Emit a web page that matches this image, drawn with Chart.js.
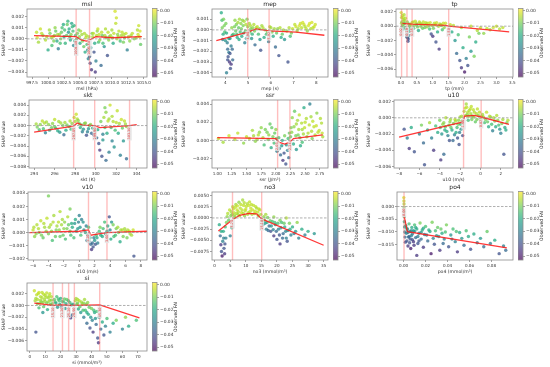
<!DOCTYPE html>
<html>
<head>
<meta charset="utf-8">
<script src="https://cdn.jsdelivr.net/npm/chart.js@4.4.1/dist/chart.umd.min.js"></script>
<style>
html, body { margin: 0; padding: 0; background: #fff; }
#fig { position: relative; width: 550px; height: 367px; overflow: hidden; background: #fff; }
canvas { position: absolute; }
</style>
</head>
<body>
<div id="fig"></div>
<script>
// ---- data: [x, SHAP value, observed FAI] ----
const mslPts = [[998.2,0.0006,-0.004],[998.3,0.0001,-0.002],[998.5,-0.0003,-0.006],[998.8,0.0009,-0.003],[999.0,0.0005,-0.004],[999.2,0.0003,-0.008],[999.6,-0.0001,-0.005],[999.8,0.0002,-0.006],
  [1000.0,-0.0010,-0.02],[1000.2,0.0008,-0.006],[1000.3,0.0005,-0.01],[1000.5,0.0001,-0.006],[1000.6,-0.0006,-0.015],[1000.8,0.0002,-0.004],[1000.9,-0.0002,-0.01],[1001.0,0.0003,-0.008],[1001.1,0.0010,-0.008],[1001.2,0.0007,-0.012],[1001.4,-0.0002,-0.02],[1001.5,0.0004,-0.006],[1001.6,-0.0009,-0.03],[1001.8,0.0004,-0.007],[1001.9,-0.0004,-0.015],
  [1002.0,0.0000,-0.01],[1002.1,0.0006,-0.012],[1002.2,0.0010,-0.015],[1002.4,0.0013,-0.02],[1002.5,0.0002,-0.022],[1002.6,0.0008,-0.015],[1002.7,-0.0004,-0.018],[1002.9,0.0003,-0.012],[1003.0,0.0013,-0.012],[1003.1,0.0016,-0.018],[1003.2,0.0006,-0.025],[1003.3,0.0009,-0.02],[1003.4,0.0002,-0.015],[1003.5,-0.0001,-0.02],[1003.6,0.0004,-0.009],[1003.7,0.0014,-0.022],[1003.8,0.0011,-0.018],[1003.9,0.0007,-0.015],[1004.0,-0.0006,-0.028],[1004.1,0.0012,-0.018],[1004.2,-0.0002,-0.02],[1004.3,0.0003,-0.015],
  [1004.5,0.0000,-0.012],[1004.6,0.0005,-0.01],[1004.8,0.0008,-0.01],[1004.9,0.0002,-0.008],[1005.0,-0.0004,-0.02],[1005.1,0.0007,-0.006],[1005.3,0.0004,-0.006],[1005.4,-0.0002,-0.01],[1005.6,-0.0007,-0.012],[1005.7,0.0005,-0.005],[1005.8,-0.0012,-0.02],[1005.9,0.0001,-0.004],[1006.0,0.0003,-0.005],[1006.1,-0.0005,-0.015],[1006.2,-0.0010,-0.025],[1006.3,-0.0018,-0.03],[1006.4,0.0002,-0.006],[1006.5,-0.0016,-0.035],[1006.6,-0.0022,-0.04],[1006.7,-0.0008,-0.025],[1006.8,-0.0028,-0.045],[1006.9,0.0005,-0.01],
  [1007.0,0.0002,-0.006],[1007.1,0.0005,-0.004],[1007.2,-0.0012,-0.04],[1007.3,-0.0004,-0.02],[1007.4,-0.0030,-0.045],[1007.5,-0.0020,-0.03],[1007.6,0.0003,-0.005],[1007.7,0.0007,-0.008],[1007.8,0.0009,-0.003],[1007.9,-0.0003,-0.015],[1008.0,0.0004,-0.004],[1008.1,-0.0001,-0.008],[1008.3,-0.0024,-0.035],[1008.4,0.0006,-0.004],[1008.5,0.0003,-0.012],[1008.6,-0.0004,-0.015],[1008.8,-0.0007,-0.025],[1008.9,0.0003,-0.006],[1009.0,0.0009,-0.005],[1009.1,0.0001,-0.01],[1009.3,-0.0015,-0.04],[1009.4,0.0006,-0.004],
  [1009.5,-0.0001,-0.008],[1009.6,0.0002,-0.01],[1009.8,0.0003,-0.005],[1010.0,0.0008,-0.006],[1010.1,0.0001,-0.008],[1010.2,-0.0004,-0.02],[1010.3,0.0005,-0.004],[1010.5,0.0025,-0.002],[1010.6,0.0014,-0.004],[1010.7,0.0019,-0.003],[1010.8,0.0000,-0.006],[1010.9,0.0004,-0.008],[1011.0,0.0002,-0.006],[1011.1,0.0007,-0.004],[1011.3,-0.0002,-0.015],[1011.5,0.0003,-0.006],[1011.6,0.0006,-0.004],[1011.8,-0.0003,-0.01],[1011.9,0.0004,-0.005],[1012.0,0.0001,-0.01],[1012.2,0.0005,-0.004],[1012.4,-0.0010,-0.03],
  [1012.6,0.0002,-0.006],[1012.8,-0.0002,-0.008],[1013.0,0.0003,-0.006],[1013.2,0.0005,-0.004],[1013.5,0.0000,-0.01],[1013.8,0.0001,-0.006],[1014.0,0.0008,-0.005],[1014.1,0.0004,-0.003],[1014.2,0.0012,-0.003],[1014.3,0.0002,-0.003],[1014.4,0.0007,-0.002],[1014.5,-0.0005,-0.012]];
const mslFit = [[997.8,0.0003],[1004.4,0.0002],[1005.2,-0.0001],[1006.0,-0.0002],[1006.5,-0.0001],[1007.5,0.0002],[1010.0,0.0001],[1014.7,0.0002]];
const mslBreaks = [1004.4, 1006.5];
const mslXTicks = [997.5, 1000, 1002.5, 1005, 1007.5, 1010, 1012.5, 1015];
const mslYTicks = [-0.003, -0.002, -0.001, 0, 0.001, 0.002];

const mepPts = [[3.82,0.0016,-0.02],[3.85,0.0009,-0.015],[3.86,0.0002,-0.01],[3.9,-0.0004,-0.02],[3.88,-0.0009,-0.03],[3.92,0.0010,-0.01],[3.95,0.0004,-0.01],[3.97,-0.0002,-0.015],
  [4.0,-0.0010,-0.025],[4.02,0.0006,-0.01],[4.05,-0.0003,-0.02],[4.05,-0.0040,-0.03],[4.08,-0.0012,-0.03],[4.1,-0.0018,-0.035],[4.1,-0.0028,-0.04],[4.12,-0.0025,-0.04],[4.15,-0.0021,-0.03],[4.15,-0.0008,-0.02],[4.18,-0.0030,-0.045],[4.2,-0.0008,-0.025],[4.2,-0.0022,-0.04],[4.22,-0.0036,-0.04],[4.25,-0.0015,-0.03],[4.25,-0.0032,-0.045],[4.28,0.0002,-0.008],[4.3,-0.0005,-0.02],[4.3,-0.0018,-0.035],[4.32,-0.0028,-0.035],[4.35,-0.0004,-0.015],
  [4.4,0.0003,-0.01],[4.42,0.0009,-0.008],[4.45,-0.0001,-0.012],[4.48,0.0005,-0.01],[4.5,-0.0004,-0.015],[4.52,-0.0007,-0.02],[4.55,0.0007,-0.006],[4.58,0.0002,-0.012],[4.6,-0.0009,-0.02],[4.62,0.0010,-0.006],[4.65,-0.0002,-0.015],[4.68,0.0006,-0.008],[4.7,0.0001,-0.01],[4.72,-0.0006,-0.02],[4.75,0.0009,-0.008],[4.78,0.0004,-0.01],[4.8,-0.0003,-0.018],[4.82,0.0008,-0.006],[4.85,-0.0012,-0.03],[4.88,-0.0001,-0.012],[4.9,0.0005,-0.005],[4.92,-0.0008,-0.025],[4.95,0.0010,-0.01],[4.98,0.0003,-0.008],[5.0,-0.0006,-0.02],
  [5.05,0.0006,-0.006],[5.08,-0.0002,-0.012],[5.1,0.0004,-0.005],[5.12,0.0001,-0.01],[5.15,-0.0008,-0.025],[5.18,-0.0004,-0.018],[5.2,0.0002,-0.008],[5.25,0.0005,-0.005],[5.28,-0.0001,-0.01],[5.3,-0.0014,-0.035],[5.35,0.0002,-0.006],[5.4,0.0003,-0.004],[5.45,-0.0004,-0.015],[5.5,0.0001,-0.008],[5.52,-0.0009,-0.025],[5.55,-0.0019,-0.04],[5.6,0.0004,-0.006],[5.65,0.0002,-0.005],[5.7,-0.0007,-0.02],[5.75,0.0000,-0.008],[5.8,-0.0004,-0.015],
  [5.85,-0.0002,-0.01],[5.9,-0.0011,-0.03],[5.95,0.0003,-0.005],[6.0,0.0002,-0.006],[6.05,-0.0002,-0.01],[6.1,-0.0006,-0.02],[6.15,0.0001,-0.006],[6.2,-0.0016,-0.035],[6.25,-0.0003,-0.012],[6.3,0.0001,-0.008],[6.35,-0.0024,-0.04],[6.4,0.0002,-0.005],[6.45,-0.0007,-0.02],[6.5,-0.0004,-0.012],[6.55,0.0000,-0.006],[6.6,-0.0009,-0.025],[6.7,-0.0001,-0.008],[6.75,-0.0030,-0.04],[6.8,0.0002,-0.005],[6.85,-0.0006,-0.015],[6.9,-0.0003,-0.01],[6.95,0.0001,-0.004],
  [7.05,0.0005,-0.004],[7.1,0.0003,-0.003],[7.15,-0.0001,-0.006],[7.2,0.0001,-0.006],[7.25,0.0004,-0.002],[7.3,0.0006,-0.003],[7.35,0.0002,-0.004],[7.4,0.0007,-0.002],[7.45,0.0005,-0.003],[7.5,0.0003,-0.005],[7.55,0.0001,-0.004],[7.6,-0.0001,-0.008],[7.65,0.0004,-0.002],[7.7,0.0006,-0.002],[7.75,0.0001,-0.005],[7.8,0.0007,-0.002],[7.85,0.0002,-0.004],[7.9,0.0003,-0.003],[7.95,0.0005,-0.003]];
const mepFit = [[3.6,-0.0010],[4.98,-0.0002],[5.35,0.0001],[5.92,-0.0001],[7.1,-0.0002],[8.35,-0.0005]];
const mepBreaks = [4.98, 5.92];
const mepXTicks = [4, 5, 6, 7, 8];
const mepYTicks = [-0.004, -0.003, -0.002, -0.001, 0, 0.001];

const tpPts = [[0.01,0.0019,-0.003],[0.02,0.0012,-0.005],[0.02,0.0004,-0.006],[0.03,0.0006,-0.008],[0.04,0.0015,-0.004],[0.04,-0.0001,-0.012],[0.05,0.0002,-0.01],[0.06,-0.0004,-0.02],[0.07,0.0012,-0.004],[0.08,0.0009,-0.006],[0.09,0.0003,-0.008],[0.1,0.0016,-0.005],[0.11,0.0008,-0.006],[0.12,0.0004,-0.012],[0.13,-0.0002,-0.015],[0.14,0.0011,-0.005],
  [0.17,-0.0005,-0.02],[0.18,-0.0015,-0.035],[0.19,-0.0011,-0.03],[0.2,0.0006,-0.008],[0.21,-0.0016,-0.035],[0.22,-0.0021,-0.04],[0.23,-0.0018,-0.04],[0.24,-0.0013,-0.03],[0.25,0.0003,-0.01],[0.26,-0.0007,-0.02],[0.27,0.0000,-0.01],[0.29,-0.0003,-0.015],
  [0.32,0.0002,-0.006],[0.35,0.0005,-0.005],[0.38,0.0006,-0.004],[0.4,-0.0003,-0.015],[0.42,0.0001,-0.008],[0.45,0.0007,-0.004],[0.48,0.0004,-0.005],[0.5,0.0002,-0.01],[0.52,-0.0001,-0.01],[0.55,-0.0006,-0.02],[0.58,0.0006,-0.004],[0.6,0.0004,-0.005],[0.62,0.0000,-0.008],[0.65,0.0003,-0.005],[0.68,-0.0003,-0.012],[0.7,0.0006,-0.004],[0.72,0.0002,-0.006],[0.75,-0.0002,-0.01],[0.78,0.0005,-0.004],[0.8,0.0003,-0.006],[0.82,-0.0001,-0.008],[0.85,0.0004,-0.004],[0.88,0.0001,-0.006],[0.9,-0.0004,-0.015],[0.92,0.0005,-0.003],[0.95,-0.0011,-0.04],[0.98,0.0001,-0.006],
  [1.0,-0.0014,-0.045],[1.02,-0.0003,-0.01],[1.05,0.0004,-0.004],[1.08,0.0002,-0.005],[1.1,-0.0022,-0.04],[1.12,0.0005,-0.003],[1.15,-0.0008,-0.02],[1.18,0.0000,-0.006],[1.2,-0.0032,-0.045],[1.22,0.0003,-0.004],[1.25,0.0002,-0.006],[1.28,0.0001,-0.005],[1.3,-0.0005,-0.015],[1.33,0.0004,-0.003],[1.36,-0.0002,-0.008],[1.4,0.0004,-0.003],
  [1.55,0.0002,-0.004],[1.6,-0.0008,-0.02],[1.65,0.0001,-0.004],[1.7,-0.0020,-0.025],[1.75,-0.0038,-0.035],[1.8,-0.0012,-0.015],[1.85,-0.0048,-0.04],[1.9,-0.0058,-0.045],[1.9,-0.0002,-0.006],[1.95,-0.0030,-0.02],[2.0,-0.0064,-0.05],[2.05,-0.0045,-0.03],[2.1,-0.0055,-0.04],[2.15,-0.0015,-0.01],[2.2,-0.0035,-0.025],[2.2,0.0000,-0.004],[2.3,-0.0042,-0.01],[2.35,-0.0022,-0.02],[2.4,-0.0006,-0.005],[2.45,-0.0010,-0.01],[2.5,-0.0002,-0.004],
  [2.6,-0.0010,-0.008],[2.7,-0.0003,-0.004],[2.8,-0.0005,-0.006],[2.9,-0.0002,-0.003],[3.0,0.0000,-0.003],[3.1,-0.0004,-0.005],[3.2,-0.0002,-0.004]];
const tpFit = [[0.05,0.0004],[0.35,0.0003],[1.4,0.0001],[1.5,0.0000],[2.5,-0.0004],[3.4,-0.0008]];
const tpBreaks = [0.02, 0.19, 0.35, 1.5];
const tpXTicks = [0, 0.5, 1, 1.5, 2, 2.5, 3, 3.5];
const tpYTicks = [-0.006, -0.004, -0.002, 0, 0.002];

const sktPts = [[294.2,0.0003,-0.006],[294.3,-0.0003,-0.01],[294.5,-0.0008,-0.015],[294.6,0.0002,-0.008],[294.8,0.0009,-0.004],[294.9,-0.0006,-0.015],[295.0,0.0005,-0.005],[295.1,-0.0014,-0.03],[295.2,0.0007,-0.006],[295.4,0.0002,-0.008],[295.5,-0.0009,-0.02],[295.7,-0.0004,-0.012],[295.8,0.0004,-0.008],
  [296.0,0.0012,-0.004],[296.0,-0.0002,-0.01],[296.1,-0.0005,-0.015],[296.3,-0.0010,-0.02],[296.4,0.0008,-0.006],[296.5,-0.0013,-0.025],[296.6,0.0005,-0.006],[296.8,0.0000,-0.01],[296.9,-0.0018,-0.035],[297.0,0.0006,-0.006],[297.1,-0.0009,-0.02],[297.2,0.0001,-0.01],[297.4,-0.0002,-0.012],[297.5,0.0009,-0.005],[297.6,-0.0007,-0.015],[297.7,0.0004,-0.008],
  [297.9,0.0016,-0.004],[298.0,0.0008,-0.006],[298.1,0.0022,-0.003],[298.2,0.0013,-0.005],[298.3,0.0010,-0.008],[298.4,0.0004,-0.01],[298.5,-0.0004,-0.02],[298.6,0.0001,-0.012],
  [298.7,-0.0012,-0.03],[298.8,-0.0007,-0.025],[298.9,0.0004,-0.01],[299.0,0.0005,-0.008],[299.1,-0.0019,-0.04],[299.2,-0.0012,-0.03],[299.3,-0.0006,-0.025],[299.4,0.0000,-0.012],[299.5,0.0002,-0.008],[299.6,-0.0015,-0.035],[299.7,-0.0005,-0.02],[299.8,-0.0018,-0.04],
  [299.9,-0.0010,-0.02],[300.1,-0.0024,-0.035],[300.2,-0.0008,-0.02],[300.3,-0.0035,-0.04],[300.4,-0.0048,-0.045],[300.5,0.0008,-0.01],[300.6,-0.0060,-0.04],[300.7,-0.0028,-0.025],[300.7,-0.0017,-0.03],[300.8,0.0016,-0.006],[300.9,0.0035,-0.01],[300.9,-0.0004,-0.015],[301.0,0.0026,-0.008],[301.0,-0.0068,-0.035],[301.1,-0.0015,-0.02],[301.2,0.0009,-0.004],[301.3,-0.0052,-0.03],[301.3,0.0013,-0.006],[301.4,0.0040,-0.003],[301.5,-0.0004,-0.015],[301.6,0.0018,-0.005],[301.6,-0.0030,-0.03],[301.7,0.0008,-0.005],[301.8,-0.0042,-0.025],[301.9,-0.0009,-0.015],
  [302.0,0.0006,-0.004],[302.1,0.0029,-0.004],[302.2,-0.0015,-0.02],[302.3,0.0004,-0.006],[302.4,-0.0058,-0.03],[302.5,0.0012,-0.003],[302.6,-0.0005,-0.012],[302.7,-0.0030,-0.025],[302.8,0.0009,-0.004],[302.9,0.0003,-0.006],[303.0,-0.0065,-0.035],[303.0,-0.0002,-0.008]];
const sktFit = [[294.0,-0.0013],[297.85,-0.0001],[298.2,0.0005],[298.7,0.0001],[299.9,0.0000],[300.4,-0.0004],[303.3,0.0000],[304.0,0.0002]];
const sktBreaks = [297.85, 299.9, 303.3];
const sktXTicks = [294, 296, 298, 300, 302, 304];
const sktYTicks = [-0.008, -0.006, -0.004, -0.002, 0, 0.002, 0.004];

const ssrPts = [[1.02,0.0002,-0.004],[1.1,-0.0002,-0.006],[1.2,0.0005,-0.003],[1.3,0.0001,-0.005],[1.35,0.0008,-0.004],[1.45,-0.0003,-0.008],[1.5,0.0004,-0.004],[1.55,0.0002,-0.004],[1.6,0.0011,-0.006],[1.62,0.0005,-0.006],[1.65,-0.0001,-0.008],[1.68,0.0001,-0.006],[1.7,0.0006,-0.005],[1.72,0.0009,-0.008],[1.75,0.0014,-0.008],[1.78,0.0003,-0.006],[1.8,-0.0005,-0.015],[1.82,0.0012,-0.01],[1.85,0.0009,-0.01],[1.87,0.0001,-0.01],[1.88,0.0006,-0.008],[1.9,0.0018,-0.012],[1.92,-0.0008,-0.02],[1.93,0.0014,-0.012],[1.95,0.0004,-0.01],[1.97,-0.0003,-0.015],[1.98,0.0008,-0.012],[2.0,0.0012,-0.008],[2.01,0.0002,-0.012],[2.02,-0.0012,-0.03],
  [2.05,0.0003,-0.015],[2.06,-0.0009,-0.03],[2.08,-0.0016,-0.035],[2.1,-0.0006,-0.025],[2.11,0.0000,-0.02],[2.12,-0.0022,-0.045],[2.14,-0.0014,-0.04],[2.15,0.0005,-0.01],[2.17,-0.0026,-0.04],[2.18,-0.0005,-0.025],[2.2,-0.0011,-0.03],[2.21,0.0002,-0.015],[2.22,-0.0019,-0.035],[2.23,0.0008,-0.012],
  [2.25,0.0004,-0.012],[2.26,0.0014,-0.01],[2.27,0.0009,-0.008],[2.28,0.0025,-0.008],[2.3,-0.0004,-0.02],[2.31,0.0015,-0.008],[2.32,0.0032,-0.012],[2.34,0.0005,-0.01],[2.35,0.0018,-0.006],[2.35,-0.0010,-0.025],[2.37,0.0022,-0.006],[2.38,0.0006,-0.01],[2.39,0.0012,-0.006],[2.4,0.0028,-0.004],[2.41,0.0003,-0.012],[2.42,-0.0006,-0.02],[2.44,0.0019,-0.005],[2.45,0.0012,-0.006],[2.45,-0.0002,-0.015],[2.47,0.0007,-0.006],[2.48,0.0036,-0.02],[2.49,0.0014,-0.004],[2.5,0.0020,-0.004],
  [2.52,0.0024,-0.005],[2.53,0.0004,-0.008],[2.55,0.0008,-0.005],[2.57,0.0017,-0.004],[2.58,0.0040,-0.03],[2.6,0.0026,-0.006],[2.61,0.0010,-0.005],[2.62,0.0002,-0.01],[2.63,0.0021,-0.004],[2.65,0.0015,-0.004],[2.67,0.0006,-0.005],[2.69,0.0016,-0.003],[2.7,0.0030,-0.008],[2.72,0.0009,-0.004],[2.74,0.0011,-0.004],[2.76,0.0024,-0.005],[2.78,0.0019,-0.005],[2.79,0.0008,-0.004],[2.8,0.0004,-0.006]];
const ssrFit = [[1.0,0.0003],[2.0,0.0002],[2.05,-0.0002],[2.15,-0.0004],[2.24,-0.0002],[2.3,0.0002],[2.8,0.0006]];
const ssrBreaks = [2.03, 2.24];
const ssrXTicks = [1, 1.25, 1.5, 1.75, 2, 2.25, 2.5, 2.75];
const ssrYTicks = [-0.002, 0, 0.002, 0.004];

const u10Pts = [[-7.5,-0.0014,-0.04],[-7.2,-0.0025,-0.03],[-7.0,-0.0038,-0.045],[-6.8,-0.0012,-0.02],[-6.5,-0.0042,-0.04],[-6.0,-0.0020,-0.03],[-5.8,-0.0009,-0.01],[-5.6,-0.0031,-0.035],[-5.5,-0.0058,-0.04],[-5.2,-0.0015,-0.02],[-5.0,-0.0006,-0.006],[-4.8,-0.0025,-0.03],[-4.6,-0.0040,-0.045],[-4.4,-0.0010,-0.015],[-4.2,-0.0018,-0.02],[-4.0,-0.0003,-0.01],[-3.95,-0.0012,-0.015],[-3.9,-0.0052,-0.045],
  [-3.8,-0.0020,-0.025],[-3.7,-0.0008,-0.008],[-3.6,-0.0045,-0.035],[-3.6,-0.0006,-0.008],[-3.5,-0.0015,-0.02],[-3.45,-0.0011,-0.012],[-3.4,0.0000,-0.005],[-3.3,-0.0017,-0.02],[-3.2,-0.0022,-0.03],[-3.1,-0.0009,-0.01],[-3.05,-0.0028,-0.04],[-3.0,-0.0005,-0.008],[-2.95,-0.0002,-0.006],[-2.9,-0.0012,-0.012],[-2.8,-0.0015,-0.02],[-2.7,-0.0028,-0.035],[-2.65,-0.0007,-0.01],[-2.55,-0.0021,-0.03],[-2.5,-0.0002,-0.004],[-2.45,-0.0004,-0.006],[-2.4,-0.0018,-0.02],[-2.3,-0.0012,-0.015],[-2.25,-0.0025,-0.04],[-2.2,-0.0008,-0.01],[-2.15,-0.0003,-0.008],[-2.1,-0.0033,-0.04],[-2.05,-0.0018,-0.03],[-2.0,0.0001,-0.006],[-1.95,-0.0008,-0.015],[-1.9,-0.0014,-0.025],[-1.85,0.0002,-0.006],[-1.8,-0.0004,-0.01],[-1.75,-0.0022,-0.04],
  [-1.6,0.0008,-0.005],[-1.5,0.0012,-0.004],[-1.45,0.0003,-0.006],[-1.4,0.0017,-0.006],[-1.35,0.0013,-0.004],[-1.3,0.0004,-0.008],[-1.25,0.0007,-0.005],[-1.2,-0.0003,-0.015],[-1.15,0.0002,-0.008],[-1.1,0.0009,-0.005],[-1.0,0.0011,-0.004],[-0.95,0.0005,-0.006],[-0.9,0.0014,-0.004],[-0.85,-0.0002,-0.01],[-0.8,0.0002,-0.01],[-0.7,0.0010,-0.004],[-0.65,0.0001,-0.008],[-0.6,0.0007,-0.005],[-0.5,-0.0005,-0.012],[-0.4,0.0005,-0.005],[-0.35,-0.0002,-0.01],[-0.3,0.0011,-0.004],[-0.2,0.0003,-0.008],[-0.1,0.0007,-0.004],[0.0,-0.0002,-0.01],
  [0.1,0.0002,-0.006],[0.2,0.0004,-0.006],[0.3,0.0001,-0.006],[0.4,-0.0006,-0.015],[0.5,-0.0002,-0.01],[0.6,0.0007,-0.004],[0.7,-0.0005,-0.012],[0.8,-0.0011,-0.02],[0.9,0.0002,-0.005],[1.0,0.0001,-0.006],[1.1,-0.0008,-0.015],[1.2,-0.0016,-0.03],[1.3,0.0000,-0.006],[1.4,-0.0004,-0.01],[1.5,-0.0011,-0.02],[1.6,0.0003,-0.005],[1.7,-0.0003,-0.008],[1.8,-0.0009,-0.015],[1.9,-0.0014,-0.025],[2.0,-0.0019,-0.03],[2.1,-0.0007,-0.01],[2.2,-0.0002,-0.006],[2.3,-0.0045,-0.04],[2.4,-0.0012,-0.02],[2.5,-0.0015,-0.02],[2.6,-0.0006,-0.01],[2.7,-0.0003,-0.005]];
const u10Fit = [[-8.0,-0.0024],[-1.7,-0.0005],[-1.55,0.0002],[-0.6,0.0003],[0.07,0.0001],[2.8,-0.0008]];
const u10Breaks = [-1.66, 0.07];
const u10XTicks = [-8, -6, -4, -2, 0, 2];
const u10YTicks = [-0.006, -0.004, -0.002, 0, 0.002];

const v10Pts = [[-6.0,0.0002,-0.004],[-5.9,0.0004,-0.005],[-5.8,-0.0003,-0.008],[-5.6,-0.0001,-0.008],[-5.5,0.0006,-0.005],[-5.3,0.0003,-0.005],[-5.2,0.0000,-0.01],[-5.0,0.0009,-0.004],[-4.9,-0.0002,-0.01],[-4.7,-0.0004,-0.012],[-4.6,0.0007,-0.005],[-4.5,0.0004,-0.006],[-4.3,0.0001,-0.008],[-4.2,0.0011,-0.004],[-4.0,0.0028,-0.01],[-4.0,-0.0001,-0.01],[-3.9,0.0004,-0.006],[-3.7,0.0006,-0.005],[-3.6,0.0001,-0.008],[-3.5,-0.0006,-0.015],[-3.4,0.0008,-0.005],[-3.3,0.0013,-0.006],[-3.1,-0.0003,-0.012],[-3.0,0.0002,-0.01],[-2.9,0.0005,-0.006],[-2.7,0.0008,-0.004],[-2.6,0.0002,-0.008],[-2.5,-0.0003,-0.012],[-2.5,0.0016,-0.005],[-2.3,0.0006,-0.006],[-2.2,0.0010,-0.006],[-2.1,-0.0002,-0.012],[-2.0,0.0003,-0.008],[-1.9,0.0008,-0.008],[-1.8,-0.0005,-0.015],[-1.6,0.0003,-0.01],[-1.5,0.0012,-0.005],[-1.4,0.0006,-0.012],[-1.2,0.0001,-0.012],[-1.2,0.0018,-0.01],[-1.1,-0.0002,-0.015],[-1.0,0.0007,-0.02],[-0.9,0.0004,-0.02],[-0.7,-0.0004,-0.015],[-0.6,0.0007,-0.025],[-0.5,0.0010,-0.02],[-0.4,0.0001,-0.02],[-0.2,0.0003,-0.025],[-0.1,0.0008,-0.03],[0.0,0.0013,-0.03],[0.1,0.0004,-0.025],[0.2,-0.0002,-0.015],[0.3,0.0010,-0.03],[0.5,0.0008,-0.025],[0.6,0.0002,-0.025],[0.8,0.0000,-0.02],[0.9,0.0005,-0.03],[1.0,-0.0006,-0.03],[1.1,-0.0002,-0.025],[1.2,0.0004,-0.015],
  [1.3,-0.0007,-0.03],[1.4,-0.0004,-0.02],[1.5,-0.0009,-0.035],[1.6,-0.0013,-0.045],[1.7,-0.0008,-0.035],[1.8,-0.0011,-0.04],[1.9,-0.0004,-0.03],[2.0,-0.0006,-0.025],[2.1,-0.0009,-0.04],[2.2,-0.0002,-0.015],[2.3,-0.0004,-0.02],[2.4,-0.0008,-0.03],
  [2.6,0.0001,-0.015],[2.7,0.0004,-0.01],[2.8,-0.0002,-0.02],[3.0,-0.0003,-0.02],[3.1,0.0003,-0.015],[3.3,0.0008,-0.015],[3.4,-0.0001,-0.02],[3.6,0.0001,-0.02],[3.7,0.0005,-0.02],[3.9,0.0012,-0.04],[4.0,0.0002,-0.03],[4.1,-0.0005,-0.02],[4.2,0.0008,-0.025],[4.4,0.0006,-0.01],[4.5,-0.0003,-0.015],[4.7,-0.0002,-0.015],[4.8,0.0003,-0.01],[5.0,0.0004,-0.006],[5.1,0.0000,-0.01],[5.3,-0.0007,-0.02],[5.4,0.0002,-0.006],[5.6,0.0002,-0.005],[5.7,-0.0003,-0.01],[5.9,0.0003,-0.006],[6.0,0.0001,-0.006],[6.2,-0.0004,-0.01],[6.3,0.0002,-0.005],[6.5,0.0001,-0.004],[6.6,-0.0001,-0.006],[6.8,-0.0002,-0.006],[7.0,0.0002,-0.003],[7.1,-0.0018,-0.04]];
const v10Fit = [[-6.5,0.0000],[0.0,0.0001],[1.2,0.0002],[1.5,-0.0002],[2.5,-0.0001],[3.6,0.0000],[8.8,0.0001]];
const v10Breaks = [1.2, 3.6];
const v10XTicks = [-6, -4, -2, 0, 2, 4, 6, 8];
const v10YTicks = [-0.002, -0.001, 0, 0.001, 0.002, 0.003];

const no3Pts = [[1.5,-0.0015,-0.02],[1.8,-0.0040,-0.035],[2.0,-0.0060,-0.045],[2.1,-0.0030,-0.02],[2.2,-0.0075,-0.04],[2.4,-0.0085,-0.05],[2.6,-0.0052,-0.03],[2.8,-0.0030,-0.02],[2.9,-0.0045,-0.03],[3.0,-0.0068,-0.04],[3.2,-0.0080,-0.045],[3.3,-0.0058,-0.04],[3.4,-0.0020,-0.015],[3.6,-0.0045,-0.03],[3.8,-0.0010,-0.01],[4.0,0.0003,-0.008],
  [4.2,0.0010,-0.005],[4.5,-0.0005,-0.012],[4.8,0.0018,-0.004],[5.0,-0.0040,-0.03],[5.2,0.0005,-0.01],[5.3,0.0014,-0.006],[5.5,-0.0022,-0.02],[5.6,0.0008,-0.008],[5.8,0.0025,-0.005],[6.0,0.0020,-0.004],[6.2,0.0012,-0.004],[6.3,0.0006,-0.006],[6.5,0.0002,-0.008],[6.6,0.0024,-0.004],[6.8,0.0030,-0.006],[7.0,0.0010,-0.005],[7.2,0.0018,-0.003],[7.3,0.0027,-0.003],[7.5,0.0008,-0.006],[7.6,0.0014,-0.005],[7.8,0.0035,-0.008],[8.0,0.0005,-0.006],[8.2,0.0022,-0.004],[8.4,0.0030,-0.004],[8.6,0.0012,-0.003],[8.8,0.0018,-0.004],[9.0,0.0040,-0.006],[9.2,0.0010,-0.005],[9.3,0.0028,-0.004],[9.5,0.0034,-0.005],[9.6,0.0005,-0.008],[9.8,0.0016,-0.004],[10.0,0.0020,-0.003],[10.2,0.0026,-0.004],[10.5,0.0032,-0.005],[10.6,0.0008,-0.006],[10.8,0.0012,-0.004],[11.0,0.0028,-0.003],[11.2,0.0036,-0.004],[11.4,0.0015,-0.004],[11.6,0.0022,-0.003],[11.8,0.0030,-0.004],[12.0,0.0008,-0.006],[12.2,0.0018,-0.003],[12.5,0.0028,-0.004],[12.8,0.0010,-0.005],[13.0,0.0015,-0.003],[13.2,0.0025,-0.004],[13.5,0.0022,-0.005],[13.8,0.0013,-0.004],[14.0,0.0005,-0.008],[14.2,0.0020,-0.004],[14.5,0.0018,-0.004],[14.8,0.0008,-0.006],
  [15.3,-0.0005,-0.02],[15.5,-0.0015,-0.025],[15.8,0.0003,-0.008],[16.0,-0.0005,-0.012],[16.2,-0.0012,-0.025],[16.4,0.0008,-0.006],[16.6,-0.0025,-0.03],[16.8,-0.0010,-0.02],[17.0,0.0001,-0.01],[17.2,-0.0028,-0.035],[17.5,-0.0018,-0.035],[17.8,-0.0006,-0.012],[18.0,-0.0030,-0.04],[18.2,-0.0018,-0.025],[18.5,-0.0008,-0.015],[18.8,-0.0026,-0.03],[19.0,-0.0040,-0.045],[19.0,0.0002,-0.008],[19.3,-0.0010,-0.015],[19.5,-0.0015,-0.02],[19.8,-0.0030,-0.035],[20.0,-0.0048,-0.04],[20.3,-0.0012,-0.015],[20.5,-0.0025,-0.03],[20.8,-0.0038,-0.04],[21.0,-0.0058,-0.045],[21.0,-0.0005,-0.01],[21.3,-0.0022,-0.025],[21.5,-0.0010,-0.015],[21.8,-0.0045,-0.035],[22.0,-0.0035,-0.035],[22.3,-0.0012,-0.012],[22.5,-0.0020,-0.02],[22.8,-0.0030,-0.03],[23.0,-0.0045,-0.03],[23.0,0.0000,-0.005],[23.3,-0.0052,-0.04],[23.5,-0.0028,-0.025],[24.0,-0.0012,-0.01],[24.2,-0.0025,-0.02],[24.5,-0.0038,-0.03],[25.0,-0.0020,-0.02],[25.5,-0.0035,-0.03],[26.0,-0.0030,-0.025],[26.5,-0.0010,-0.008],[27.0,-0.0045,-0.03],[28.0,-0.0025,-0.02],[29.0,-0.0038,-0.03],[30.0,-0.0030,-0.02],[32.0,-0.0035,-0.025]];
const no3Fit = [[1.2,-0.0029],[5.5,-0.0005],[8.0,0.0006],[11.0,0.0010],[13.5,0.0009],[15.1,-0.0002],[35.0,-0.0061]];
const no3Breaks = [5.74, 15.1];
const no3XTicks = [0, 5, 10, 15, 20, 25, 30, 35];
const no3YTicks = [-0.0075, -0.005, -0.0025, 0, 0.0025, 0.005];

const po4Pts = [[0.0002,0.0035,-0.002],[0.0003,0.0022,-0.004],[0.0004,0.001,-0.006],[0.0004,-0.0005,-0.01],[0.0005,-0.002,-0.012],[0.0006,-0.004,-0.015],[0.0007,-0.006,-0.02],[0.0009,-0.008,-0.025],[0.0011,-0.010,-0.03],[0.0013,-0.012,-0.035],[0.0016,-0.014,-0.04],
  [0.002,-0.0075,-0.02],[0.0025,-0.0105,-0.03],[0.003,-0.0135,-0.04],[0.003,-0.0085,-0.02],[0.0035,-0.009,-0.025],[0.004,-0.0155,-0.045],[0.004,-0.0102,-0.03],[0.0045,-0.012,-0.035],[0.005,-0.0068,-0.015],[0.005,-0.0118,-0.035],[0.0055,-0.0142,-0.04],[0.006,-0.0098,-0.03],[0.006,-0.0128,-0.04],[0.0065,-0.0165,-0.05],[0.007,-0.0115,-0.03],[0.007,-0.0095,-0.025],[0.0075,-0.0082,-0.02],[0.008,-0.013,-0.04],[0.008,-0.0108,-0.03],[0.009,-0.0095,-0.025],[0.009,-0.0138,-0.045],[0.0095,-0.0152,-0.045],[0.010,-0.0072,-0.015],[0.010,-0.0098,-0.025],[0.011,-0.0122,-0.035],[0.011,-0.0082,-0.02],[0.012,-0.0088,-0.02],[0.012,-0.0192,-0.045],[0.013,-0.0145,-0.04],[0.013,-0.0118,-0.03],[0.014,-0.0105,-0.03],[0.014,-0.0135,-0.04],[0.015,-0.0065,-0.01],[0.016,-0.0128,-0.035],[0.016,-0.0102,-0.025],[0.017,-0.0092,-0.02],[0.018,-0.016,-0.045],[0.018,-0.0085,-0.02],[0.019,-0.011,-0.03],[0.020,-0.0078,-0.015],
  [0.021,-0.0112,-0.03],[0.022,-0.0135,-0.035],[0.023,-0.0092,-0.02],[0.024,-0.0098,-0.02],[0.025,-0.0185,-0.05],[0.026,-0.0062,-0.01],[0.027,-0.0125,-0.03],[0.028,-0.0148,-0.04],[0.029,-0.0095,-0.015],[0.030,-0.0115,-0.025],[0.031,-0.0082,-0.012],[0.032,-0.0118,-0.025],[0.033,-0.0172,-0.045],[0.034,-0.0088,-0.012],[0.035,-0.0105,-0.02],[0.036,-0.0145,-0.035],[0.037,-0.0128,-0.03],[0.038,-0.0100,-0.015],[0.039,-0.0072,-0.01],[0.041,-0.0158,-0.04],[0.043,-0.0112,-0.025],[0.044,-0.0128,-0.03],[0.045,-0.0088,-0.015],[0.047,-0.0138,-0.03],[0.048,-0.0098,-0.015],[0.049,-0.0178,-0.045],[0.051,-0.0102,-0.02],[0.053,-0.0125,-0.025],[0.055,-0.0152,-0.035],[0.057,-0.0095,-0.015],[0.059,-0.0118,-0.02],[0.061,-0.0168,-0.04],[0.064,-0.0108,-0.02],[0.067,-0.0142,-0.03],[0.070,-0.0125,-0.025],[0.073,-0.0158,-0.035],[0.076,-0.0098,-0.012],[0.079,-0.0145,-0.03],[0.083,-0.0132,-0.02],[0.087,-0.0185,-0.04],[0.091,-0.0155,-0.03],[0.093,-0.0172,-0.035]];
const po4Fit = [[0.0004,-0.0036],[0.0035,-0.0099],[0.094,-0.0162]];
const po4Breaks = [0.0004];
const po4XTicks = [0, 0.02, 0.04, 0.06, 0.08];
const po4YTicks = [-0.015, -0.01, -0.005, 0];

const siPts = [[3,0.0025,-0.003],[3.5,0.0008,-0.006],[4,0.0012,-0.006],[4,-0.0045,-0.04],[4.5,0.0018,-0.004],[5,0.0003,-0.01],[5,0.0010,-0.005],[5.5,0.0020,-0.004],[6,-0.0004,-0.015],[6,0.0022,-0.003],[6.5,0.0004,-0.008],[7,0.0015,-0.005],[7,0.0009,-0.006],[7.5,0.0006,-0.008],[8,0.0022,-0.004],[8,0.0013,-0.005],[8.5,-0.0012,-0.025],[8.5,0.0005,-0.008],[9,-0.0002,-0.012],[9,0.0019,-0.004],[9.5,0.0010,-0.006],[10,0.0017,-0.005],[10,0.0007,-0.006],[10.5,0.0014,-0.005],[11,0.0004,-0.01],[11,0.0021,-0.004],[11.5,-0.0007,-0.02],[12,0.0013,-0.006],[12,0.0006,-0.008],[12.5,0.0016,-0.005],[13,0.0020,-0.004],[13,0.0009,-0.006],[13.5,0.0002,-0.012],[14,0.0009,-0.008],[14,0.0015,-0.005],[14.5,0.0003,-0.01],
  [16,0.0010,-0.012],[16.5,0.0006,-0.015],[17,0.0004,-0.02],[17.5,0.0015,-0.015],[18,-0.0003,-0.025],[18.5,0.0011,-0.015],[19,0.0008,-0.015],[19.5,0.0002,-0.02],[20,0.0012,-0.02],[20.5,-0.0002,-0.03],[21,0.0007,-0.015],[22,0.0006,-0.015],[22.5,0.0011,-0.012],[23,-0.0005,-0.025],[23.5,0.0003,-0.02],[24,0.0010,-0.012],[25,0.0008,-0.015],[25.5,-0.0018,-0.04],[26,0.0005,-0.015],[26.5,-0.0021,-0.045],[27,0.0001,-0.02],[27.5,-0.0016,-0.035],[28,0.0002,-0.02],
  [29.5,0.0008,-0.006],[30,0.0012,-0.006],[30.5,0.0002,-0.01],[31,0.0004,-0.01],[31,0.0010,-0.005],[31.5,-0.0006,-0.02],[32,0.0008,-0.005],[32.5,-0.0002,-0.012],[33,-0.0012,-0.025],[33.5,0.0006,-0.006],[34,0.0003,-0.008],[34.5,-0.0008,-0.015],[35,-0.0020,-0.03],[35,0.0004,-0.008],[35.5,0.0010,-0.006],[36,-0.0008,-0.015],[36.5,0.0002,-0.01],[37,-0.0030,-0.035],[37,-0.0012,-0.02],[37.5,0.0005,-0.008],[38,-0.0015,-0.02],[38.5,-0.0003,-0.012],[39,-0.0038,-0.04],[39.5,-0.0020,-0.025],[40,-0.0005,-0.01],[40.5,-0.0025,-0.03],[41,-0.0045,-0.045],[41.5,-0.0008,-0.015],[42,-0.0012,-0.02],[42.5,-0.0022,-0.025],[43,-0.0032,-0.035],[43.5,-0.0010,-0.015],[44,-0.0055,-0.04],[44.5,-0.0063,-0.045],
  [45,-0.0020,-0.025],[46,-0.0040,-0.035],[47,-0.0028,-0.02],[48,-0.0050,-0.04],[49,-0.0035,-0.03],[50,-0.0022,-0.015],[52,-0.0045,-0.03],[54,-0.0030,-0.02],[56,-0.0025,-0.01],[60,-0.0040,-0.03],[62,-0.0020,-0.008],[64,-0.0035,-0.02],[69,-0.0025,-0.015]];
const siFit = [[3,0.0004],[15.1,0.0000],[21.2,0.0001],[25.2,0.0000],[28.9,0.0000],[45.3,0.0001],[71,-0.0021]];
const siBreaks = [15.1, 21.2, 25.2, 28.9, 45.3];
const siXTicks = [0, 10, 20, 30, 40, 50, 60, 70];
const siYTicks = [-0.006, -0.004, -0.002, 0, 0.002];

// colour bar (observed FAI)
const cbRange = [-0.0532, 0.0016];
const cbTicks = [-0.05, -0.04, -0.03, -0.02, -0.01, 0];

// ---- drawing ----
const FONT = 'DejaVu Sans';
const VIR = ['#440154','#482475','#414487','#355f8d','#2a788e','#21918c','#22a884','#44bf70','#7ad151','#bddf26','#fde725'];
const fmt = (v, d) => v.toFixed(d).replace('-', '\u2212');

function hexRgb(h) {
  return [parseInt(h.slice(1, 3), 16), parseInt(h.slice(3, 5), 16), parseInt(h.slice(5, 7), 16)];
}
function viridis(v, a) {
  let t = (v - cbRange[0]) / (cbRange[1] - cbRange[0]);
  t = Math.max(0, Math.min(1, t)) * 10;
  const i = Math.min(9, Math.floor(t)), f = t - i;
  const c0 = hexRgb(VIR[i]), c1 = hexRgb(VIR[i + 1]);
  const c = c0.map((x, k) => Math.round(x + (c1[k] - x) * f));
  return `rgba(${c[0]},${c[1]},${c[2]},${a})`;
}

function addCanvas(left, top, w, h) {
  const c = document.createElement('canvas');
  c.width = w; c.height = h;
  c.style.left = left + 'px'; c.style.top = top + 'px';
  c.style.width = w + 'px'; c.style.height = h + 'px';
  document.getElementById('fig').appendChild(c);
  return c;
}

const panelDeco = {
  id: 'deco',
  afterDatasetsDraw(chart, args, opts) {
    if (!opts.breaks) return;
    const { ctx, chartArea: a, scales: { x, y } } = chart;
    ctx.save();
    ctx.beginPath(); ctx.rect(a.left, a.top, a.width, a.height); ctx.clip();
    ctx.strokeStyle = 'rgba(255,110,110,0.45)'; ctx.lineWidth = 1.4;
    opts.breaks.forEach(b => {
      const px = x.getPixelForValue(b);
      ctx.beginPath(); ctx.moveTo(px, a.top); ctx.lineTo(px, a.bottom); ctx.stroke();
    });
    const y0 = y.getPixelForValue(0);
    ctx.setLineDash([2.5, 1.5]); ctx.strokeStyle = '#9a9a9a'; ctx.lineWidth = 0.8;
    ctx.beginPath(); ctx.moveTo(a.left, y0); ctx.lineTo(a.right, y0); ctx.stroke();
    ctx.setLineDash([]);
    ctx.font = `3.4px ${FONT}`;
    opts.breaks.forEach(b => {
      const px = x.getPixelForValue(b);
      const txt = b.toFixed(2);
      const w = ctx.measureText(txt).width;
      ctx.save();
      ctx.translate(px, y0 + 2); ctx.rotate(-Math.PI / 2);
      ctx.fillStyle = 'rgba(228,228,228,0.85)'; ctx.fillRect(-w - 1, -2.2, w + 2, 4.4);
      ctx.fillStyle = 'rgba(230,40,40,0.9)'; ctx.textAlign = 'right'; ctx.textBaseline = 'middle';
      ctx.fillText(txt, 0, 0);
      ctx.restore();
    });
    ctx.restore();
  },
  afterDraw(chart, args, opts) {
    const { ctx, chartArea: a } = chart;
    ctx.save();
    ctx.strokeStyle = '#8c8c8c'; ctx.lineWidth = 0.8;
    ctx.strokeRect(a.left, a.top, a.width, a.height);
    ctx.fillStyle = '#222'; ctx.textBaseline = 'middle';
    if (opts.title) {
      ctx.font = `6px ${FONT}`; ctx.textAlign = 'center';
      ctx.fillText(opts.title, (a.left + a.right) / 2, a.top - 4.5);
    }
    if (opts.cbLabel) {
      ctx.font = `4.6px ${FONT}`; ctx.textAlign = 'center';
      ctx.translate(a.right + 19, (a.top + a.bottom) / 2); ctx.rotate(-Math.PI / 2);
      ctx.fillText(opts.cbLabel, 0, 0);
    }
    ctx.restore();
  }
};

function axis(range, ticks, dec, label, fit, tickSize) {
  return {
    type: 'linear', min: range[0], max: range[1],
    afterBuildTicks: s => { s.ticks = ticks.map(v => ({ value: v })); },
    afterFit: fit,
    grid: { display: true, drawOnChartArea: false, drawTicks: true, tickLength: 2, color: '#666', lineWidth: 0.6 },
    border: { display: false },
    ticks: { font: { family: FONT, size: tickSize }, color: '#333', padding: 1, maxRotation: 0, autoSkip: false, callback: v => fmt(v, dec) },
    title: { display: !!label, text: label, font: { family: FONT, size: 4.6 }, color: '#333', padding: { top: 1.5, bottom: 0.5 } }
  };
}

const colLeft = [0, 180, 365], plotRight = [147, 328, 513], rowTop = [0, 91, 183, 274];

function panel(p) {
  const left = colLeft[p.col], top = rowTop[p.row];
  const w = plotRight[p.col] - left + 6;
  new Chart(addCanvas(left, top, w, 92), {
    type: 'scatter',
    data: {
      datasets: [
        { type: 'line', data: p.fit.map(d => ({ x: d[0], y: d[1] })), borderColor: 'rgba(255,20,20,0.85)', borderWidth: 1.3, pointRadius: 0, tension: 0, order: 0 },
        { data: p.pts.map(d => ({ x: d[0], y: d[1] })), pointBackgroundColor: p.pts.map(d => viridis(d[2], 0.75)), pointBorderWidth: 0, pointRadius: 1.7, order: 1 }
      ]
    },
    options: {
      animation: false, responsive: false, devicePixelRatio: 1,
      layout: { padding: { top: 9, right: 6, left: 0, bottom: 0 } },
      plugins: { legend: { display: false }, tooltip: { enabled: false }, deco: { breaks: p.breaks, title: p.title } },
      scales: {
        x: axis(p.xr, p.xt, p.xd, p.xLabel, s => { s.height = 15; s.paddingLeft = 0; s.paddingRight = 0; }, 4.1),
        y: axis(p.yr, p.yt, p.yd, 'SHAP value', s => { s.width = p.yw; s.paddingTop = 0; s.paddingBottom = 0; }, 4.4)
      }
    },
    plugins: [panelDeco]
  });

  const cb = addCanvas(plotRight[p.col] + 5, top, 34, 92);
  new Chart(cb, {
    type: 'bar',
    data: {
      labels: [''],
      datasets: [{
        data: [[cbRange[0], cbRange[1]]], borderWidth: 0, barPercentage: 1, categoryPercentage: 1,
        backgroundColor: ctx => {
          const a = ctx.chart.chartArea;
          if (!a) return 'transparent';
          const g = ctx.chart.ctx.createLinearGradient(0, a.bottom, 0, a.top);
          VIR.forEach((h, i) => { const c = hexRgb(h); g.addColorStop(i / 10, `rgba(${c[0]},${c[1]},${c[2]},0.7)`); });
          return g;
        }
      }]
    },
    options: {
      animation: false, responsive: false, devicePixelRatio: 1,
      layout: { padding: { top: 8.5, right: 0, left: 0, bottom: 15 } },
      plugins: { legend: { display: false }, tooltip: { enabled: false }, deco: { cbLabel: 'Observed FAI' } },
      scales: {
        x: { display: false },
        y: Object.assign(axis(cbRange, cbTicks, 2, '', s => { s.width = 29; s.paddingTop = 0; s.paddingBottom = 0; }, 4.4), { position: 'right' })
      }
    },
    plugins: [panelDeco]
  });
}

[
  { title: 'msl', xLabel: 'msl (hPa)', pts: mslPts, fit: mslFit, breaks: mslBreaks, xr: [996.7, 1015.5], yr: [-0.00345, 0.0027], xt: mslXTicks, yt: mslYTicks, xd: 1, yd: 3, col: 0, row: 0, yw: 27 },
  { title: 'mep', xLabel: 'mep (s)', pts: mepPts, fit: mepFit, breaks: mepBreaks, xr: [3.41, 8.51], yr: [-0.0044, 0.00195], xt: mepXTicks, yt: mepYTicks, xd: 0, yd: 3, col: 1, row: 0, yw: 32 },
  { title: 'tp', xLabel: 'tp (mm)', pts: tpPts, fit: tpFit, breaks: tpBreaks, xr: [-0.155, 3.52], yr: [-0.0071, 0.0024], xt: tpXTicks, yt: tpYTicks, xd: 1, yd: 3, col: 2, row: 0, yw: 31 },
  { title: 'skt', xLabel: 'skt (K)', pts: sktPts, fit: sktFit, breaks: sktBreaks, xr: [293.5, 305.0], yr: [-0.0083, 0.005], xt: sktXTicks, yt: sktYTicks, xd: 0, yd: 3, col: 0, row: 1, yw: 29 },
  { title: 'ssr', xLabel: 'ssr (J/m\u00b2)', pts: ssrPts, fit: ssrFit, breaks: ssrBreaks, xr: [0.91, 2.89], yr: [-0.00304, 0.00444], xt: ssrXTicks, yt: ssrYTicks, xd: 2, yd: 3, col: 1, row: 1, yw: 32 },
  { title: 'u10', xLabel: 'u10 (m/s)', pts: u10Pts, fit: u10Fit, breaks: u10Breaks, xr: [-8.5, 3.2], yr: [-0.0062, 0.0022], xt: u10XTicks, yt: u10YTicks, xd: 0, yd: 3, col: 2, row: 1, yw: 29 },
  { title: 'v10', xLabel: 'v10 (m/s)', pts: v10Pts, fit: v10Fit, breaks: v10Breaks, xr: [-6.66, 8.8], yr: [-0.0021, 0.0031], xt: v10XTicks, yt: v10YTicks, xd: 0, yd: 3, col: 0, row: 2, yw: 28 },
  { title: 'no3', xLabel: 'no3 (mmol/m\u00b3)', pts: no3Pts, fit: no3Fit, breaks: no3Breaks, xr: [-0.85, 36.4], yr: [-0.0094, 0.0058], xt: no3XTicks, yt: no3YTicks, xd: 0, yd: 4, col: 1, row: 2, yw: 32 },
  { title: 'po4', xLabel: 'po4 (mmol/m\u00b3)', pts: po4Pts, fit: po4Fit, breaks: po4Breaks, xr: [-0.006, 0.0996], yr: [-0.021, 0.0057], xt: po4XTicks, yt: po4YTicks, xd: 2, yd: 3, col: 2, row: 2, yw: 32 },
  { title: 'si', xLabel: 'si (mmol/m\u00b3)', pts: siPts, fit: siFit, breaks: siBreaks, xr: [-1.75, 75.9], yr: [-0.0077, 0.0038], xt: siXTicks, yt: siYTicks, xd: 0, yd: 3, col: 0, row: 3, yw: 27 }
].forEach(panel);
</script>
</body>
</html>
